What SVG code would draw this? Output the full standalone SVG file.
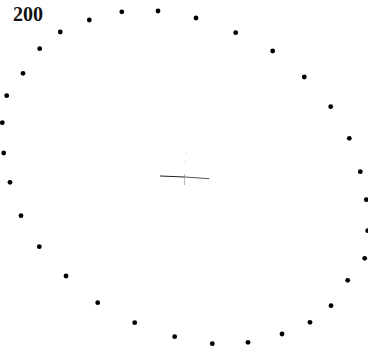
<svg xmlns="http://www.w3.org/2000/svg" width="368" height="352" viewBox="0 0 368 352">
<style>
.d{fill:#000}
.lbl{font-family:"Liberation Serif","Times New Roman",serif;font-weight:bold;font-size:20px;fill:#111}
</style>
<rect width="368" height="352" fill="#fff"/>
<text class="lbl" x="13" y="20.5">200</text>
<g id="dots">
<circle class="d" cx="121.8" cy="11.8" r="2.4"/>
<circle class="d" cx="158" cy="11" r="2.4"/>
<circle class="d" cx="196" cy="18" r="2.4"/>
<circle class="d" cx="235.7" cy="32.7" r="2.4"/>
<circle class="d" cx="272.7" cy="51" r="2.4"/>
<circle class="d" cx="304.3" cy="77" r="2.4"/>
<circle class="d" cx="330.7" cy="106.7" r="2.4"/>
<circle class="d" cx="349.3" cy="138.3" r="2.4"/>
<circle class="d" cx="360.3" cy="171.7" r="2.4"/>
<circle class="d" cx="366.3" cy="199.7" r="2.4"/>
<circle class="d" cx="367.7" cy="230.7" r="2.4"/>
<circle class="d" cx="364.7" cy="258.3" r="2.4"/>
<circle class="d" cx="347.7" cy="280.3" r="2.4"/>
<circle class="d" cx="331" cy="305.7" r="2.4"/>
<circle class="d" cx="310" cy="322.3" r="2.4"/>
<circle class="d" cx="282" cy="334" r="2.4"/>
<circle class="d" cx="248" cy="342.3" r="2.4"/>
<circle class="d" cx="212.3" cy="343.7" r="2.4"/>
<circle class="d" cx="174.7" cy="336.7" r="2.4"/>
<circle class="d" cx="134.7" cy="322.7" r="2.4"/>
<circle class="d" cx="97.7" cy="302.7" r="2.4"/>
<circle class="d" cx="66" cy="276" r="2.4"/>
<circle class="d" cx="39.3" cy="246.7" r="2.4"/>
<circle class="d" cx="21" cy="215.7" r="2.4"/>
<circle class="d" cx="10" cy="182.3" r="2.4"/>
<circle class="d" cx="3.7" cy="153" r="2.4"/>
<circle class="d" cx="2.3" cy="122.7" r="2.4"/>
<circle class="d" cx="6.7" cy="95.7" r="2.4"/>
<circle class="d" cx="23" cy="73.3" r="2.4"/>
<circle class="d" cx="39.7" cy="48.7" r="2.4"/>
<circle class="d" cx="60.3" cy="32" r="2.4"/>
<circle class="d" cx="89.3" cy="20" r="2.4"/>
</g>
<g id="center">
<line x1="160" y1="176" x2="185" y2="177" stroke="#222" stroke-width="1.1"/>
<line x1="185" y1="177" x2="209.3" y2="178.7" stroke="#555" stroke-width="1"/>
<line x1="184.7" y1="174" x2="184.5" y2="185" stroke="#888" stroke-width="0.6"/>
<circle cx="186.3" cy="152.7" r="0.5" fill="#bbb"/>
<circle cx="185" cy="161.7" r="0.5" fill="#bbb"/>
</g>
</svg>
